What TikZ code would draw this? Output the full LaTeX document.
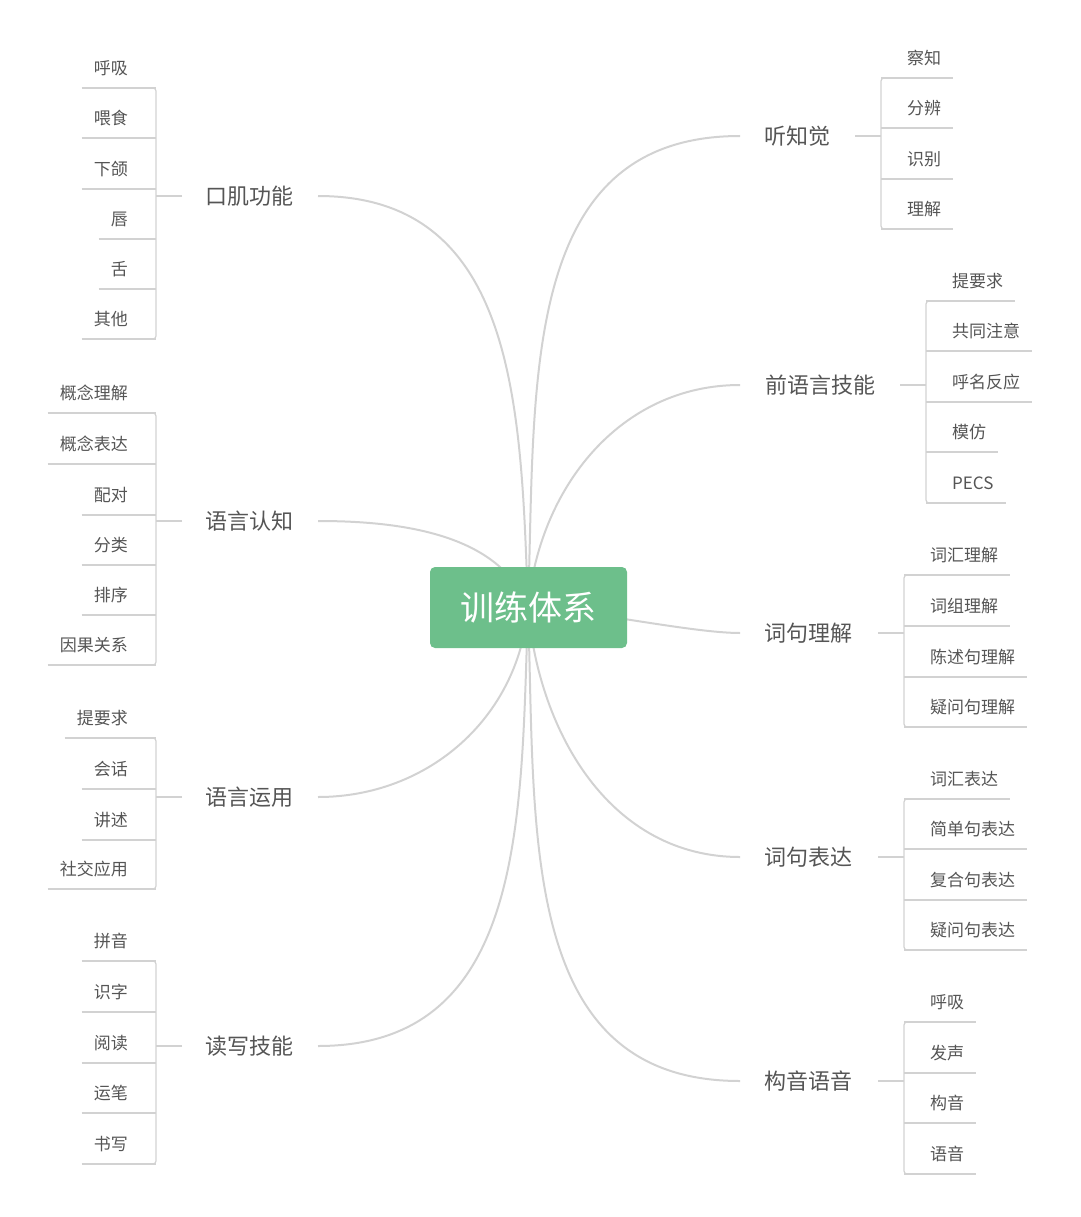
\documentclass[tikz,border=0pt]{standalone}
\usepackage{fontspec}
\newfontfamily\cjk{Noto Sans CJK SC}
\definecolor{txt}{HTML}{555555}
\definecolor{ln}{HTML}{D2D2D2}
\definecolor{gr}{HTML}{6DBF8B}
\begin{document}
\begin{tikzpicture}[x=1pt,y=-1pt,
  leaf/.style={font=\cjk\fontsize{17}{17}\selectfont,text=txt,inner xsep=12pt,inner ysep=9.5pt,text height=13pt,text depth=4pt},
  br/.style={font=\cjk\fontsize{22}{22}\selectfont,text=txt,inner sep=0pt},
  cv/.style={draw=ln,line width=2pt},
  bk/.style={draw=ln,line width=1.2pt}]
\useasboundingbox (0,0) rectangle (1080,1217);
% curves
\coordinate (o) at (528,608);
\draw[cv] (o) to[out=92,in=0,looseness=1.1] (318,196);
\draw[cv] (o) to[out=110,in=0,looseness=0.9] (318,521);
\draw[cv] (o) to[out=-95,in=0,looseness=1.0] (318,797);
\draw[cv] (o) to[out=-92,in=0,looseness=1.1] (318,1046);
\draw[cv] (o) to[out=88,in=180,looseness=1.1] (740,136);
\draw[cv] (o) to[out=85,in=180,looseness=1.0] (740,385);
\draw[cv] (o) to[out=0,in=180,looseness=0.6] (740,633);
\draw[cv] (o) to[out=-85,in=180,looseness=1.0] (740,857);
\draw[cv] (o) to[out=-88,in=180,looseness=1.1] (740,1081);
\node[fill=gr,rounded corners=5pt,minimum width=197pt,minimum height=81pt,text=white,font=\cjk\fontsize{34}{34}\selectfont] (c) at (528.5,607.5) {训练体系};
% branches
\node[br] (b1) at (249,196) {口肌功能};
\node[br] (b2) at (249,521) {语言认知};
\node[br] (b3) at (249,797) {语言运用};
\node[br] (b4) at (249,1046) {读写技能};
\node[br] (b5) at (797,136) {听知觉};
\node[br] (b6) at (820,385) {前语言技能};
\node[br] (b7) at (808,633) {词句理解};
\node[br] (b8) at (808,857) {词句表达};
\node[br] (b9) at (808,1081) {构音语音};
% left groups
\newcommand\lgrp[4]{% y-branch, first, last, list
  \draw[bk] (182,#1) -- (156,#1);
  \draw[bk,rounded corners=3pt] (150,#2+18) -- (156,#2+18) -- (156,#3+18) -- (150,#3+18);
  \foreach \y/\t in {#4}{
    \node[leaf,anchor=south east] (n) at (140,\y+18) {\t};
    \draw[bk] (n.south west) -- (156,\y+18);
  }}
\newcommand\rgrp[6]{% x-bracket, y-branch, x-branch-end, first, last, list
  \draw[bk] (#3,#2) -- (#1,#2);
  \draw[bk,rounded corners=3pt] (#1+6,#4+18) -- (#1,#4+18) -- (#1,#5+18) -- (#1+6,#5+18);
  \foreach \y/\t in {#6}{
    \node[leaf,anchor=south west] (n) at (#1+14,\y+18) {\t};
    \draw[bk] (#1,\y+18) -- (n.south east);
  }}
\lgrp{196}{70}{321}{70/呼吸,120/喂食,171/下颌,221/唇,271/舌,321/其他}
\lgrp{521}{395}{647}{395/概念理解,446/概念表达,497/配对,547/分类,597/排序,647/因果关系}
\lgrp{797}{720}{871}{720/提要求,771/会话,822/讲述,871/社交应用}
\lgrp{1046}{943}{1146}{943/拼音,994/识字,1045/阅读,1095/运笔,1146/书写}
\rgrp{881}{136}{855}{60}{211}{60/察知,110/分辨,161/识别,211/理解}
\rgrp{926}{385}{900}{283}{485}{283/提要求,333/共同注意,384/呼名反应,434/模仿,485/PECS}
\rgrp{904}{633}{878}{557}{709}{557/词汇理解,608/词组理解,659/陈述句理解,709/疑问句理解}
\rgrp{904}{857}{878}{781}{932}{781/词汇表达,831/简单句表达,882/复合句表达,932/疑问句表达}
\rgrp{904}{1081}{878}{1004}{1156}{1004/呼吸,1055/发声,1105/构音,1156/语音}
\end{tikzpicture}
\end{document}
